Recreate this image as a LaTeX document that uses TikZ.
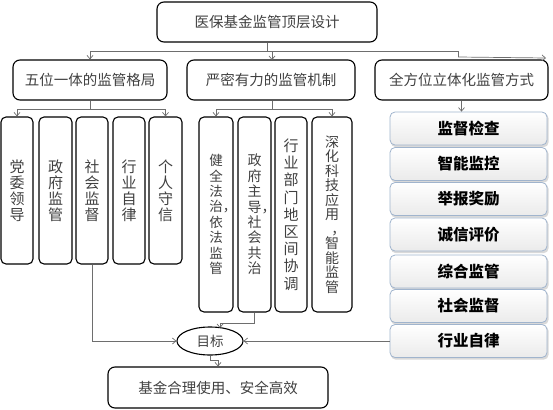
\documentclass[tikz,border=0pt]{standalone}
\usepackage{fontspec}
\setmainfont{Noto Sans CJK SC}
\usetikzlibrary{arrows.meta,shapes.geometric,backgrounds}
\definecolor{txt}{RGB}{64,64,64}
\definecolor{conncol}{RGB}{110,110,110}
\definecolor{stackb}{RGB}{160,180,205}
\begin{document}
\begin{tikzpicture}[x=1pt,y=-1pt,
  box/.style={draw=black, line width=1.1pt, rounded corners=7pt, text=txt, font=\fontsize{14.5}{16}\selectfont, inner sep=0pt},
  vbox/.style={draw=black, line width=1.1pt, rounded corners=5pt, text=txt, inner sep=0pt, align=center},
  sbox/.style={draw=stackb, line width=0.8pt, rounded corners=5pt, top color=white, bottom color=gray!16,
    minimum width=157pt, minimum height=33pt, font=\bfseries\fontsize{15.5}{17}\selectfont, inner sep=0pt},
  sshadow/.style={fill=gray!30, rounded corners=5pt},
  conn/.style={draw=conncol, line width=0.7pt},
  arr/.style={conn, -{Straight Barb[length=3.5pt,width=6pt]}},
]
\useasboundingbox (0,0) rectangle (553,409);

% top and level 2
\node[box, minimum width=220pt, minimum height=40pt] (top) at (267,22) {医保基金监管顶层设计};
\node[box, minimum width=154pt, minimum height=40pt] (m1) at (90,80) {五位一体的监管格局};
\node[box, minimum width=168pt, minimum height=40pt] (m2) at (271,80) {严密有力的监管机制};
\node[box, minimum width=173pt, minimum height=40pt] (m3) at (461.5,80) {全方位立体化监管方式};

% column 1
\begin{scope}[every node/.append style={vbox, minimum height=147pt, font=\fontsize{15}{16}\selectfont}]
\node[minimum width=32pt] (a1) at (17,190.5) {党\\委\\领\\导};
\node[minimum width=33pt] (a2) at (55.5,190.5) {政\\府\\监\\管};
\node[minimum width=32pt] (a3) at (92,190.5) {社\\会\\监\\督};
\node[minimum width=32pt] (a4) at (129,190.5) {行\\业\\自\\律};
\node[minimum width=33pt] (a5) at (165.5,190.5) {个\\人\\守\\信};
\end{scope}

% column 2
\begin{scope}[every node/.append style={vbox, minimum height=195pt}]
\node[minimum width=34pt, font=\fontsize{13.5}{15.4}\selectfont] (b1) at (216,214.5) {健\\全\\法\\治\rlap{，}\\依\\法\\监\\管};
\node[minimum width=33pt, font=\fontsize{14}{15.4}\selectfont] (b2) at (254.5,214.5) {政\\府\\主\\导\rlap{，}\\社\\会\\共\\治};
\node[minimum width=32pt, font=\fontsize{15}{17.2}\selectfont] (b3) at (291,214.5) {行\\业\\部\\门\\地\\区\\间\\协\\调};
\node[minimum width=40pt, font=\fontsize{14}{14.5}\selectfont] (b4) at (332,214.5) {深\\化\\科\\技\\应\\用\\\makebox[1em][l]{\hspace{0.45em}，}\\智\\能\\监\\管};
\end{scope}

% column 3 stack
\foreach \t/\y [count=\i] in {监督检查/128.5, 智能监控/164, 举报奖励/199, 诚信评价/234.5, 综合监管/271.5, 社会监督/306, 行业自律/341}
  \node[sbox] (s\i) at (468.5,\y) {\t};
\begin{scope}[on background layer]
\foreach \i in {1,...,7}
  \fill[sshadow] ([xshift=1.2pt,yshift=-1.8pt]s\i.south west) rectangle ([xshift=1.2pt,yshift=-1.8pt]s\i.north east);
\end{scope}

% goal and result
\node[draw=black, line width=1.1pt, ellipse, minimum width=66pt, minimum height=28pt, inner sep=0pt, text=txt, font=\fontsize{13.5}{15}\selectfont] (goal) at (210,341) {目标};
\node[box, minimum width=220pt, minimum height=41pt] (fin) at (218,387.5) {基金合理使用、安全高效};

% connectors from top
\coordinate (j0) at (267,51);
\coordinate (k0) at (458,51);
\coordinate (k1) at (458,57);
\coordinate (e3) at (546,58);
\draw[conn] (top.south) -- (j0);
\draw[conn] (m1.north |- j0) -- (k0) -- (k1);
\draw[arr] (m1.north |- j0) -- (m1.north);
\draw[arr] (j0) -- ++(5,0) -- ++(0,9);
\draw[arr] (k1) -- (e3);

% level 2 to level 3
\coordinate (j1) at (90,109);
\draw[conn] (m1.south) -- (j1);
\draw[conn] (a1.north |- j1) -- (a5.north |- j1);
\draw[arr] (a1.north |- j1) -- (a1.north);
\draw[arr] (a5.north |- j1) -- (a5.north);

\coordinate (j2) at (272,109);
\draw[conn] (m2.south -| j2) -- (j2);
\draw[conn] (b1.north |- j2) -- (b4.north |- j2);
\draw[arr] (b1.north |- j2) -- (b1.north);
\draw[arr] (b4.north |- j2) -- (b4.north);

\draw[arr] (m3.south) -- (m3.south |- s1.north);

% to goal
\draw[arr] (a3.south) |- (goal.west);
\coordinate (j3) at (220,323);
\coordinate (g1) at (220,328);
\draw[arr] (b2.south) |- (j3) -- (g1);
\draw[arr] (s7.west) -- (goal.east);
\coordinate (j4) at (210,360);
\draw[arr] (goal.south) -- (j4) -| (fin.north);
\end{tikzpicture}
\end{document}
